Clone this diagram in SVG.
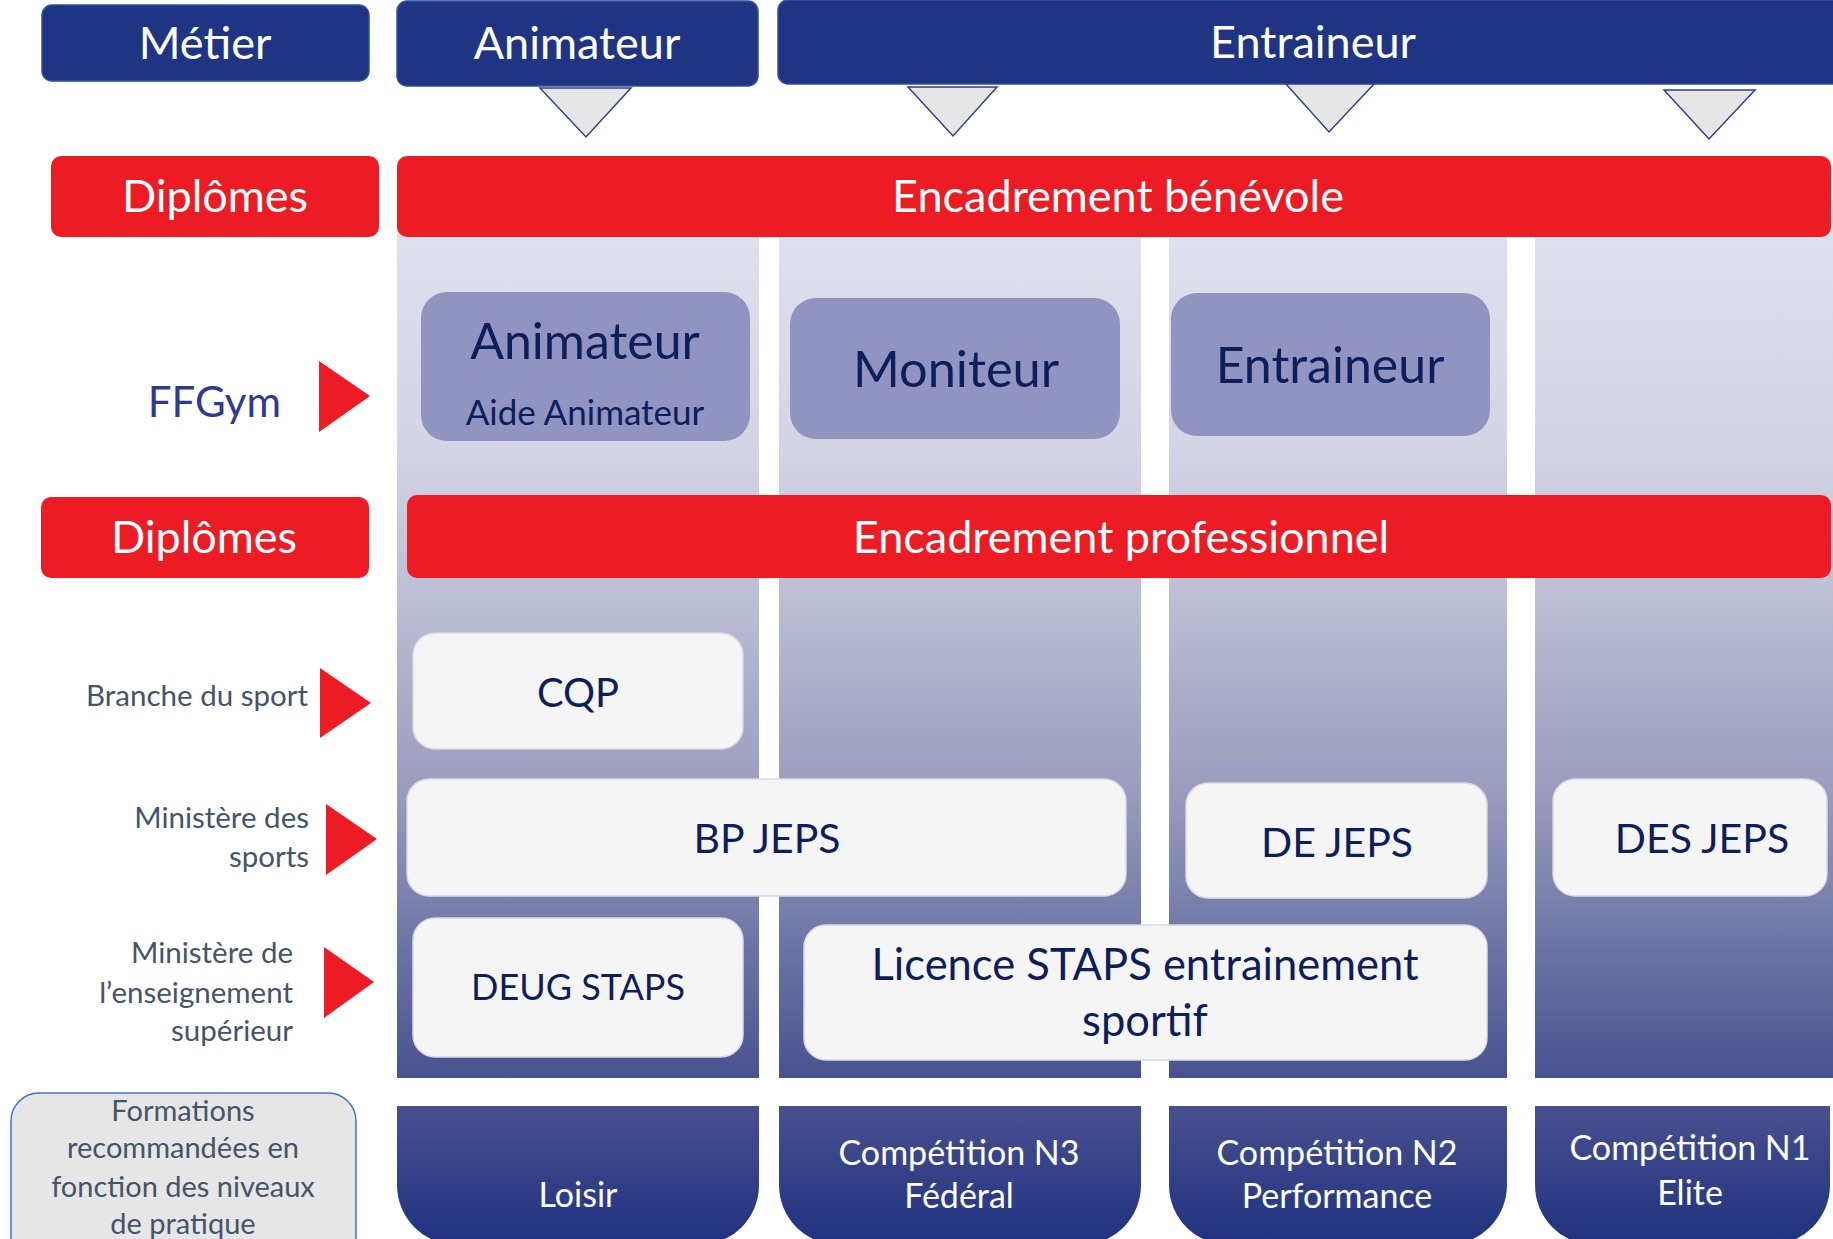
<svg xmlns="http://www.w3.org/2000/svg" width="1833" height="1239" viewBox="0 0 1833 1239">
<defs>
<linearGradient id="colGrad" gradientUnits="userSpaceOnUse" x1="0" y1="200" x2="0" y2="1078">
<stop offset="0" stop-color="#E0E2EE"/>
<stop offset="0.28" stop-color="#D3D5E5"/>
<stop offset="0.45" stop-color="#BCBFD5"/>
<stop offset="0.68" stop-color="#989BBD"/>
<stop offset="1" stop-color="#485290"/>
</linearGradient>
<linearGradient id="tabGrad" gradientUnits="userSpaceOnUse" x1="0" y1="1106" x2="0" y2="1239">
<stop offset="0" stop-color="#48508F"/>
<stop offset="1" stop-color="#213380"/>
</linearGradient>
<style>
text{font-family:Lato,"Liberation Sans",sans-serif;text-anchor:middle}
.hdr{fill:#1F3584;stroke:#2F4F9A;stroke-width:1.5}
.red{fill:#ED1C24}
.wt{fill:#FFFFFF;font-size:45px}
.ff{fill:#9194C1}
.nv{fill:#0C1E5B}
.wb{fill:#F5F5F5;stroke:#D8D9E4;stroke-width:1.5}
.side{fill:#44546A;font-size:29.5px;text-anchor:end}
.form{fill:#44546A;font-size:29px}
.tab{fill:url(#tabGrad)}
.tt{fill:#FFFFFF;font-size:34px}
.tri{fill:#E6E6E6;stroke:#2F3F8F;stroke-width:1.5}
</style>
</defs>
<rect width="1833" height="1239" fill="#FFFFFF"/>

<g id="columns">
<rect x="397" y="200" width="362" height="878" fill="url(#colGrad)"/>
<rect x="779" y="200" width="362" height="878" fill="url(#colGrad)"/>
<rect x="1169" y="200" width="338" height="878" fill="url(#colGrad)"/>
<rect x="1535" y="200" width="298" height="878" fill="url(#colGrad)"/>
</g>

<g id="metier">
<rect class="hdr" x="42" y="5" width="327" height="76" rx="10"/>
<text class="wt" x="205" y="59">Métier</text>
</g>
<g id="hdr-animateur">
<rect class="hdr" x="397" y="1" width="361" height="85" rx="10"/>
<text class="wt" x="577" y="59">Animateur</text>
</g>
<g id="hdr-entraineur">
<rect class="hdr" x="778" y="0" width="1070" height="84" rx="10"/>
<text class="wt" x="1313" y="58">Entraineur</text>
</g>

<g id="connectors">
<polygon class="tri" points="540,88 631,88 586,137"/>
<polygon class="tri" points="908,87 997,87 953,136"/>
<polygon class="tri" points="1286,84 1374,84 1329,132"/>
<polygon class="tri" points="1664,90 1755,90 1709,139"/>
<polygon class="red" points="319,361 370,396 319,432"/>
<polygon class="red" points="320,668 371,703 320,738"/>
<polygon class="red" points="326,804 377,839 326,875"/>
<polygon class="red" points="324,947 374,982 324,1018"/>
</g>

<g id="diplomes1">
<rect class="red" x="51" y="156" width="328" height="81" rx="10"/>
<text class="wt" x="215" y="212">Diplômes</text>
</g>
<g id="benevole">
<rect class="red" x="397" y="156" width="1434" height="81" rx="10"/>
<text class="wt" x="1118" y="212">Encadrement bénévole</text>
</g>

<g id="ffgym-label">
<text x="281" y="417" style="fill:#2E3B8F;font-size:42px;text-anchor:end">FFGym</text>
</g>
<g id="ffgym-animateur">
<rect class="ff" x="421" y="292" width="329" height="149" rx="26"/>
<text class="nv" x="585" y="359" font-size="50">Animateur</text>
<text class="nv" x="585" y="425" font-size="35">Aide Animateur</text>
</g>
<g id="ffgym-moniteur">
<rect class="ff" x="790" y="298" width="330" height="141" rx="26"/>
<text class="nv" x="956" y="387" font-size="50.5">Moniteur</text>
</g>
<g id="ffgym-entraineur">
<rect class="ff" x="1171" y="293" width="319" height="143" rx="26"/>
<text class="nv" x="1330" y="383" font-size="50">Entraineur</text>
</g>

<g id="diplomes2">
<rect class="red" x="41" y="497" width="328" height="81" rx="10"/>
<text class="wt" x="204" y="553">Diplômes</text>
</g>
<g id="professionnel">
<rect class="red" x="407" y="495" width="1424" height="83" rx="10"/>
<text class="wt" x="1121" y="553">Encadrement professionnel</text>
</g>

<g id="label-branche">
<text class="side" x="308" y="706">Branche du sport</text>
</g>
<g id="label-ministere-sports">
<text class="side" x="309" y="828">Ministère des</text>
<text class="side" x="309" y="867">sports</text>
</g>
<g id="label-ministere-ens">
<text class="side" x="293" y="963">Ministère de</text>
<text class="side" x="293" y="1003">l’enseignement</text>
<text class="side" x="293" y="1041">supérieur</text>
</g>

<g id="cqp">
<rect class="wb" x="413" y="633" width="330" height="116" rx="22"/>
<text class="nv" x="578" y="707" font-size="40">CQP</text>
</g>
<g id="bpjeps">
<rect class="wb" x="407" y="779" width="719" height="117" rx="22"/>
<text class="nv" x="767" y="853" font-size="41">BP JEPS</text>
</g>
<g id="dejeps">
<rect class="wb" x="1186" y="783" width="301" height="115" rx="22"/>
<text class="nv" x="1337" y="857" font-size="41">DE JEPS</text>
</g>
<g id="desjeps">
<rect class="wb" x="1553" y="779" width="274" height="117" rx="22"/>
<text class="nv" x="1702" y="853" font-size="41">DES JEPS</text>
</g>
<g id="deug">
<rect class="wb" x="413" y="918" width="330" height="139" rx="22"/>
<text class="nv" x="578" y="1000" font-size="36">DEUG STAPS</text>
</g>
<g id="licence">
<rect class="wb" x="804" y="925" width="683" height="135" rx="22"/>
<text class="nv" x="1145" y="980" font-size="43.5">Licence STAPS entrainement</text>
<text class="nv" x="1145" y="1036" font-size="43.5">sportif</text>
</g>

<g id="formations">
<rect x="11" y="1093" width="345" height="175" rx="28" fill="#E6E6E6" stroke="#4472C4" stroke-width="1.5"/>
<text class="form" x="183" y="1121">Formations</text>
<text class="form" x="183" y="1158">recommandées en</text>
<text class="form" x="183" y="1197">fonction des niveaux</text>
<text class="form" x="183" y="1234">de pratique</text>
</g>

<g id="tab-loisir">
<path class="tab" d="M397 1106 H759 V1185 A60 60 0 0 1 699 1245 H457 A60 60 0 0 1 397 1185 Z"/>
<text class="tt" x="578" y="1207">Loisir</text>
</g>
<g id="tab-n3">
<path class="tab" d="M779 1106 H1141 V1185 A60 60 0 0 1 1081 1245 H839 A60 60 0 0 1 779 1185 Z"/>
<text class="tt" x="959" y="1165">Compétition N3</text>
<text class="tt" x="959" y="1208">Fédéral</text>
</g>
<g id="tab-n2">
<path class="tab" d="M1169 1106 H1507 V1185 A60 60 0 0 1 1447 1245 H1229 A60 60 0 0 1 1169 1185 Z"/>
<text class="tt" x="1337" y="1165">Compétition N2</text>
<text class="tt" x="1337" y="1208">Performance</text>
</g>
<g id="tab-n1">
<path class="tab" d="M1535 1106 H1830 V1185 A60 60 0 0 1 1770 1245 H1595 A60 60 0 0 1 1535 1185 Z"/>
<text class="tt" x="1690" y="1160">Compétition N1</text>
<text class="tt" x="1690" y="1205">Elite</text>
</g>
</svg>
